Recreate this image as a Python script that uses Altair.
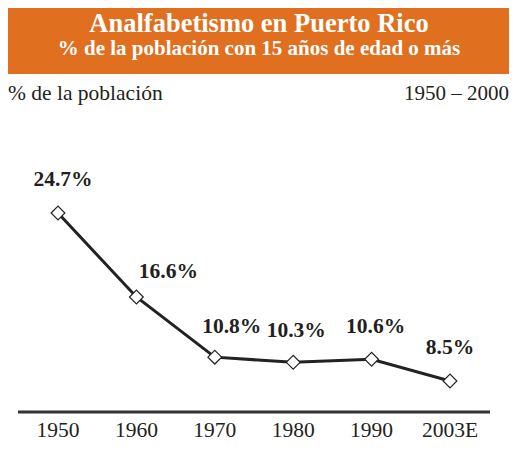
import altair as alt
import pandas as pd

# ---- data ----
YEARS = ["1950", "1960", "1970", "1980", "1990", "2003E"]
RATES = [24.7, 16.6, 10.8, 10.3, 10.6, 8.5]
TITLE = "Analfabetismo en Puerto Rico"
SUBTITLE = "% de la población con 15 años de edad o más"
Y_NOTE = "% de la población"
PERIOD = "1950 – 2000"

# ---- style ----
ORANGE = "#E07020"
INK = "#231F20"
SERIF = "Liberation Serif"
W, H = 501, 435
LABEL_OFFSETS = {  # (dx, dy) for value labels
    "1950": (5, -33), "1960": (32, -25), "1970": (17, -30),
    "1980": (3, -31), "1990": (4, -32), "2003E": (0, -33),
}

df = pd.DataFrame({"year": YEARS, "rate": RATES,
                   "label": [f"{v}%" for v in RATES]})
one = pd.DataFrame({"a": [0]})

xenc = alt.X("year:O", sort=YEARS,
             scale=alt.Scale(type="point", range=[50, 442], padding=0),
             axis=None)
yenc = alt.Y("rate:Q",
             scale=alt.Scale(domain=[8.5, 24.7], range=[373, 205],
                             zero=False, nice=False),
             axis=None)

band = alt.Chart(one).mark_rect(color=ORANGE).encode(
    x=alt.value(0), x2=alt.value(W), y=alt.value(0), y2=alt.value(66))

title = alt.Chart(pd.DataFrame({"t": [TITLE]})).mark_text(
    font=SERIF, fontSize=26.5, fontWeight="bold", color="white",
    align="center", baseline="alphabetic").encode(
    text="t:N", x=alt.value(251), y=alt.value(24))

subtitle = alt.Chart(pd.DataFrame({"t": [SUBTITLE]})).mark_text(
    font=SERIF, fontSize=21, fontWeight="bold", color="white",
    align="center", baseline="alphabetic").encode(
    text="t:N", x=alt.value(251), y=alt.value(47))

ynote = alt.Chart(pd.DataFrame({"t": [Y_NOTE]})).mark_text(
    font=SERIF, fontSize=21.5, color=INK, align="left",
    baseline="alphabetic").encode(
    text="t:N", x=alt.value(0), y=alt.value(92))

period = alt.Chart(pd.DataFrame({"t": [PERIOD]})).mark_text(
    font=SERIF, fontSize=21, color=INK, align="right",
    baseline="alphabetic").encode(
    text="t:N", x=alt.value(W), y=alt.value(92))

baseline = alt.Chart(one).mark_rule(color="#333333", strokeWidth=3).encode(
    x=alt.value(10), x2=alt.value(482), y=alt.value(404))

base = alt.Chart(df)

line = base.mark_line(color="#222222", strokeWidth=3).encode(x=xenc, y=yenc)
points = base.mark_point(shape="diamond", filled=True, fill="white",
                         stroke="#222222", strokeWidth=1.2, size=190,
                         opacity=1).encode(x=xenc, y=yenc)

value_labels = []
for yr in YEARS:
    dx, dy = LABEL_OFFSETS[yr]
    value_labels.append(
        base.transform_filter(alt.datum.year == yr).mark_text(
            font=SERIF, fontSize=21.5, fontWeight="bold", color=INK,
            align="center", baseline="middle", dx=dx, dy=dy).encode(
            x=xenc, y=yenc, text="label:N"))

year_labels = base.mark_text(font=SERIF, fontSize=21.5, color=INK,
                             align="center", baseline="middle").encode(
    x=xenc, y=alt.value(423), text="year:N")

chart = alt.layer(band, title, subtitle, ynote, period, baseline, line,
                  points, *value_labels, year_labels).properties(
    width=W, height=H, autosize="none", padding=0, background="white"
).configure_view(stroke=None)

chart.save("out.html", embed_options={"renderer": "svg", "actions": False})
